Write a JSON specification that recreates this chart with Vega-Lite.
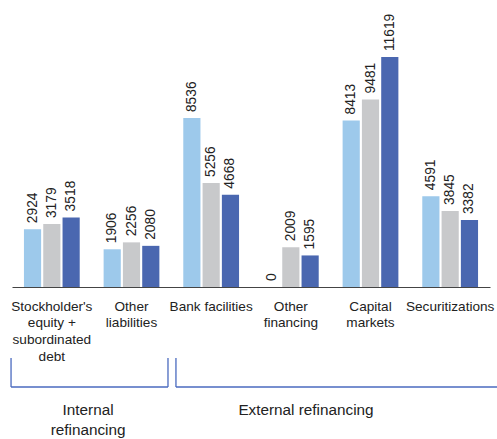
{
  "$schema": "https://vega.github.io/schema/vega-lite/v6.json",
  "width": 478,
  "height": 277,
  "autosize": {"type": "none"},
  "padding": {"left": 12, "top": 10, "right": 7, "bottom": 152},
  "background": "white",
  "config": {
    "view": {"stroke": null},
    "font": "Liberation Sans",
    "text": {"font": "Liberation Sans", "color": "#222222"}
  },
  "datasets": {
    "bars": [
      {"category": "Stockholder's\nequity +\nsubordinated\ndebt", "series": "s1", "value": 2924},
      {"category": "Stockholder's\nequity +\nsubordinated\ndebt", "series": "s2", "value": 3179},
      {"category": "Stockholder's\nequity +\nsubordinated\ndebt", "series": "s3", "value": 3518},
      {"category": "Other\nliabilities", "series": "s1", "value": 1906},
      {"category": "Other\nliabilities", "series": "s2", "value": 2256},
      {"category": "Other\nliabilities", "series": "s3", "value": 2080},
      {"category": "Bank facilities", "series": "s1", "value": 8536},
      {"category": "Bank facilities", "series": "s2", "value": 5256},
      {"category": "Bank facilities", "series": "s3", "value": 4668},
      {"category": "Other\nfinancing", "series": "s1", "value": 0},
      {"category": "Other\nfinancing", "series": "s2", "value": 2009},
      {"category": "Other\nfinancing", "series": "s3", "value": 1595},
      {"category": "Capital\nmarkets", "series": "s1", "value": 8413},
      {"category": "Capital\nmarkets", "series": "s2", "value": 9481},
      {"category": "Capital\nmarkets", "series": "s3", "value": 11619},
      {"category": "Securitizations", "series": "s1", "value": 4591},
      {"category": "Securitizations", "series": "s2", "value": 3845},
      {"category": "Securitizations", "series": "s3", "value": 3382}
    ],
    "groups": [
      {"group": "Internal\nrefinancing", "from": -0.012, "to": 1.958, "labelAt": 0.955},
      {"group": "External refinancing", "from": 2.058, "to": 6.3, "labelAt": 3.69}
    ]
  },
  "layer": [
    {
      "data": {"name": "bars"},
      "encoding": {
        "x": {
          "field": "category",
          "type": "nominal",
          "sort": null,
          "scale": {"paddingInner": 0.3, "paddingOuter": 0.15},
          "axis": {
            "title": null,
            "labelAngle": 0,
            "labelExpr": "split(datum.label, '\\n')",
            "labelFontSize": 13.6,
            "labelLineHeight": 16.7,
            "labelColor": "#222222",
            "labelFont": "Liberation Sans",
            "labelPadding": 12,
            "labelLimit": 200,
            "ticks": false,
            "tickSize": 0,
            "domainColor": "#444444",
            "domainWidth": 1.2,
            "grid": false
          }
        },
        "xOffset": {
          "field": "series",
          "type": "nominal",
          "scale": {"paddingInner": 0.11, "paddingOuter": 0}
        },
        "y": {
          "field": "value",
          "type": "quantitative",
          "scale": {"domain": [0, 14000], "nice": false, "zero": true},
          "axis": null
        }
      },
      "layer": [
        {
          "mark": {"type": "bar"},
          "encoding": {
            "color": {
              "field": "series",
              "type": "nominal",
              "scale": {"domain": ["s1", "s2", "s3"], "range": ["#9DC9EB", "#C8C9CB", "#4A67B0"]},
              "legend": null
            }
          }
        },
        {
          "mark": {"type": "text", "angle": 270, "align": "left", "baseline": "middle", "dx": 6, "fontSize": 13.8, "color": "#222222"},
          "encoding": {"text": {"field": "value", "type": "quantitative", "format": "d"}}
        }
      ]
    },
    {
      "data": {"name": "groups"},
      "layer": [
        {
          "mark": {"type": "rule", "color": "#4A6ABF", "strokeWidth": 1.3},
          "encoding": {
            "x": {"field": "from", "type": "quantitative", "scale": {"domain": [0, 6], "nice": false, "zero": false}, "axis": null},
            "y": {"datum": -3588},
            "y2": {"datum": -5054}
          }
        },
        {
          "mark": {"type": "rule", "color": "#4A6ABF", "strokeWidth": 1.3},
          "encoding": {
            "x": {"field": "to", "type": "quantitative"},
            "y": {"datum": -3588},
            "y2": {"datum": -5054}
          }
        },
        {
          "mark": {"type": "rule", "color": "#4A6ABF", "strokeWidth": 1.3},
          "encoding": {
            "x": {"field": "from", "type": "quantitative"},
            "x2": {"field": "to"},
            "y": {"datum": -5054}
          }
        },
        {
          "mark": {"type": "text", "align": "center", "baseline": "top", "fontSize": 15.3, "lineHeight": 20, "lineBreak": "\n", "color": "#222222"},
          "encoding": {
            "x": {"field": "labelAt", "type": "quantitative"},
            "y": {"datum": -5850},
            "text": {"field": "group"}
          }
        }
      ]
    }
  ],
  "resolve": {"scale": {"x": "independent"}}
}
